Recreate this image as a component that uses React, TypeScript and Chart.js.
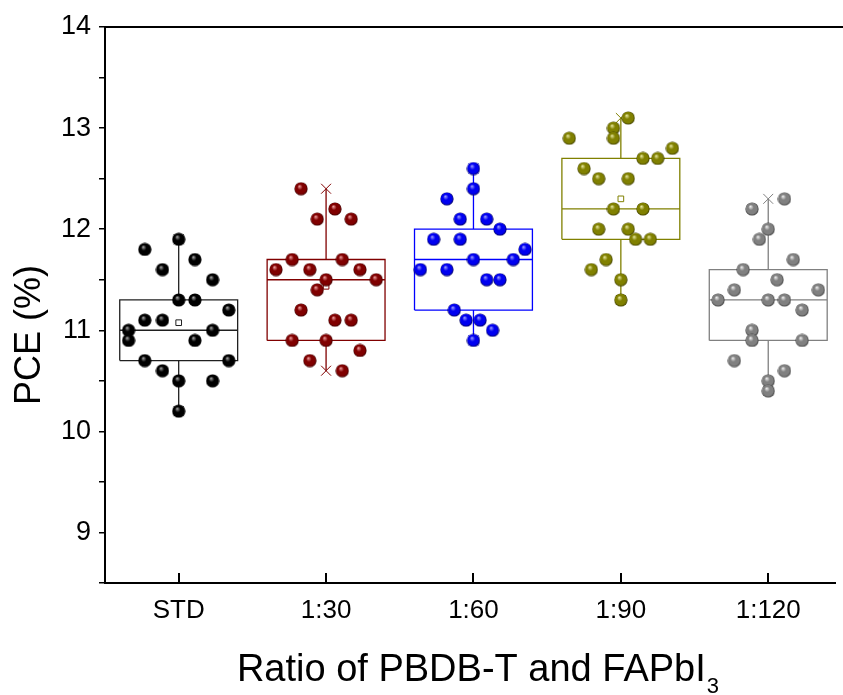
import React, { useEffect, useRef } from 'react';
import { Chart, registerables } from 'chart.js';

Chart.register(...registerables);

const categories = ['STD', '1:30', '1:60', '1:90', '1:120'];
const colors = ['#000000', '#800000', '#0000f0', '#808000', '#808080'];
const lightColors = ['#a8a8a8', '#f0a0a0', '#a0a0ff', '#e8e8a0', '#f0f0f0'];
const darkColors = ['#000000', '#400000', '#000060', '#404000', '#404040'];
const boxColors = ['#202020', '#800000', '#0000ff', '#808000', '#808080'];

const stdValues = [11.9, 11.8, 11.7, 11.6, 11.5, 11.3, 11.3, 11.2, 11.1, 11.1, 11.0, 11.0, 10.9, 10.9, 10.7, 10.7, 10.6, 10.5, 10.5, 10.2];
const stdOffsets = [0, -0.23, 0.11, -0.11, 0.23, 0, 0.11, 0.34, -0.23, -0.11, -0.34, 0.23, -0.34, 0.11, -0.23, 0.34, -0.11, 0, 0.23, 0];

const r30Values = [12.4, 12.2, 12.1, 12.1, 11.7, 11.7, 11.6, 11.6, 11.6, 11.5, 11.5, 11.4, 11.2, 11.1, 11.1, 10.9, 10.9, 10.8, 10.7, 10.6];
const r30Offsets = [-0.17, 0.06, -0.06, 0.17, -0.23, 0.11, -0.34, -0.11, 0.23, 0, 0.34, -0.06, -0.17, 0.06, 0.17, -0.23, 0, 0.23, -0.11, 0.11];

const r60Values = [12.6, 12.4, 12.3, 12.1, 12.1, 12.0, 11.9, 11.9, 11.8, 11.7, 11.7, 11.6, 11.6, 11.5, 11.5, 11.2, 11.1, 11.1, 11.0, 10.9];
const r60Offsets = [0, 0, -0.18, -0.09, 0.09, 0.18, -0.27, -0.09, 0.35, 0, 0.27, -0.36, -0.18, 0.09, 0.18, -0.13, -0.05, 0.045, 0.13, 0];

const r90Values = [13.1, 13.0, 12.9, 12.9, 12.8, 12.7, 12.7, 12.6, 12.5, 12.5, 12.2, 12.2, 12.0, 12.0, 11.9, 11.9, 11.7, 11.6, 11.5, 11.3];
const r90Offsets = [0.05, -0.05, -0.05, -0.35, 0.35, 0.15, 0.25, -0.25, -0.15, 0.05, -0.05, 0.15, -0.15, 0.05, 0.1, 0.2, -0.1, -0.2, 0, 0];

const r120Values = [12.3, 12.2, 12.0, 11.9, 11.7, 11.6, 11.5, 11.4, 11.4, 11.3, 11.3, 11.3, 11.2, 11.0, 10.9, 10.9, 10.7, 10.6, 10.5, 10.4];
const r120Offsets = [0.11, -0.11, 0, -0.06, 0.17, -0.17, 0.06, -0.23, 0.34, -0.34, 0, 0.11, 0.23, -0.11, -0.11, 0.23, -0.23, 0.11, 0, 0];

const groupValues = [stdValues, r30Values, r60Values, r90Values, r120Values];
const groupOffsets = [stdOffsets, r30Offsets, r60Offsets, r90Offsets, r120Offsets];

const q1Values = [10.7, 10.9, 11.2, 11.9, 10.9];
const medianValues = [11.0, 11.5, 11.7, 12.2, 11.3];
const q3Values = [11.3, 11.7, 12.0, 12.7, 11.6];

const yTitle = 'PCE (%)';
const xTitleMain = 'Ratio of PBDB-T and FAPbI';
const xTitleSub = '3';

const FONT = "'Liberation Sans', Arial, Helvetica, sans-serif";
const BOX_HALF = 0.4;

function makeSphere(body: string, light: string, dark: string): HTMLCanvasElement {
  const size = 14;
  const c = document.createElement('canvas');
  c.width = size;
  c.height = size;
  const g = c.getContext('2d')!;
  const cx = size / 2;
  const cy = size / 2;
  const r = 6.6;
  const grad = g.createRadialGradient(cx - 1.7, cy - 2.6, 0.2, cx, cy, r);
  grad.addColorStop(0, light);
  grad.addColorStop(0.4, body);
  grad.addColorStop(0.8, body);
  grad.addColorStop(1, dark);
  g.fillStyle = grad;
  g.beginPath();
  g.arc(cx, cy, r, 0, Math.PI * 2);
  g.fill();
  return c;
}

const decorPlugin = {
  id: 'decor',
  afterDraw(chart: any) {
    const { ctx, chartArea, scales } = chart;
    ctx.save();
    ctx.strokeStyle = '#000';
    ctx.lineWidth = 2;
    ctx.beginPath();
    ctx.moveTo(chartArea.left - 1, chartArea.top);
    ctx.lineTo(chart.width, chartArea.top);
    ctx.stroke();
    ctx.beginPath();
    categories.forEach((_, i) => {
      const px = Math.round(scales.x.getPixelForValue(i));
      ctx.moveTo(px, chartArea.bottom);
      ctx.lineTo(px, chartArea.bottom - 10);
    });
    ctx.stroke();

    // x title
    ctx.fillStyle = '#000';
    ctx.textBaseline = 'alphabetic';
    ctx.font = `38px ${FONT}`;
    const mainW = ctx.measureText(xTitleMain).width;
    ctx.font = `22px ${FONT}`;
    const subW = ctx.measureText(xTitleSub).width;
    const cx = scales.x.getPixelForValue(2) + 4;
    const startX = cx - (mainW + subW) / 2;
    ctx.font = `38px ${FONT}`;
    ctx.textAlign = 'left';
    ctx.fillText(xTitleMain, startX, 681);
    ctx.font = `22px ${FONT}`;
    ctx.fillText(xTitleSub, startX + mainW + 1, 693);

    // y title
    ctx.save();
    ctx.translate(40, 335);
    ctx.rotate(-Math.PI / 2);
    ctx.font = `36px ${FONT}`;
    ctx.textAlign = 'center';
    ctx.fillText(yTitle, 0, 0);
    ctx.restore();
    ctx.restore();
  },
};

export default function App() {
  const ref = useRef<HTMLCanvasElement>(null);

  useEffect(() => {
    if (!ref.current) return;
    const spheres = colors.map((c, i) => makeSphere(c, lightColors[i], darkColors[i]));

    const pointSets = groupValues.map((vals, i) => ({
      type: 'scatter' as const,
      label: categories[i],
      data: vals.map((v, k) => ({ x: i + groupOffsets[i][k], y: v })),
      pointStyle: spheres[i],
      pointRadius: 7,
      showLine: false,
      order: 0,
    }));

    const means = groupValues.map((vals) => vals.reduce((a, b) => a + b, 0) / vals.length);
    const mins = groupValues.map((vals) => Math.min(...vals));
    const maxs = groupValues.map((vals) => Math.max(...vals));

    const meanSet = {
      type: 'scatter' as const,
      label: 'mean',
      data: means.map((m, i) => ({ x: i, y: m })),
      pointStyle: 'rect',
      pointRadius: 4,
      backgroundColor: '#ffffff',
      borderColor: boxColors,
      borderWidth: 1,
      showLine: false,
      order: 1,
    };

    const extremeSet = {
      type: 'scatter' as const,
      label: 'extremes',
      data: [
        ...mins.map((m, i) => ({ x: i, y: m })),
        ...maxs.map((m, i) => ({ x: i, y: m })),
      ],
      pointStyle: 'crossRot',
      pointRadius: 7,
      borderColor: [...boxColors, ...boxColors],
      borderWidth: 1,
      showLine: false,
      order: 1,
    };

    const boxSets = categories.map((_, i) => ({
      type: 'scatter' as const,
      label: 'box ' + categories[i],
      data: [
        { x: i - BOX_HALF, y: q1Values[i] },
        { x: i + BOX_HALF, y: q1Values[i] },
        { x: i + BOX_HALF, y: q3Values[i] },
        { x: i - BOX_HALF, y: q3Values[i] },
        { x: i - BOX_HALF, y: q1Values[i] },
        { x: i, y: null },
        { x: i - BOX_HALF, y: medianValues[i] },
        { x: i + BOX_HALF, y: medianValues[i] },
        { x: i, y: null },
        { x: i, y: q3Values[i] },
        { x: i, y: maxs[i] },
        { x: i, y: null },
        { x: i, y: q1Values[i] },
        { x: i, y: mins[i] },
      ],
      showLine: true,
      spanGaps: false,
      borderColor: boxColors[i],
      borderWidth: 1.3,
      pointRadius: 0,
      tension: 0,
      order: 2,
    }));

    const chart = new Chart(ref.current, {
      type: 'scatter',
      data: { datasets: [...pointSets, meanSet, extremeSet, ...boxSets] as any },
      options: {
        responsive: false,
        animation: false,
        layout: { padding: { top: 27, right: 0, left: 0, bottom: 0 } },
        plugins: { legend: { display: false }, tooltip: { enabled: false } },
        scales: {
          x: {
            type: 'linear',
            min: -0.5,
            max: 4.453,
            afterBuildTicks: (s: any) => {
              s.ticks = categories.map((_, i) => ({ value: i }));
            },
            afterFit: (s: any) => {
              s.height = 112;
            },
            ticks: {
              autoSkip: false,
              maxRotation: 0,
              padding: 12,
              color: '#000',
              font: { family: FONT, size: 26 },
              callback: (v: any) => categories[Math.round(Number(v))] ?? '',
            },
            grid: { display: false, drawTicks: false },
            border: { display: true, color: '#000', width: 2 },
          },
          y: {
            type: 'linear',
            min: 8.5,
            max: 14,
            afterFit: (s: any) => {
              s.width = 105;
            },
            ticks: {
              stepSize: 0.5,
              padding: 8,
              color: '#000',
              font: { family: FONT, size: 27 },
              callback: (v: any) => (Number.isInteger(Number(v)) && Number(v) >= 9 ? String(v) : ''),
            },
            grid: { display: true, drawOnChartArea: false, drawTicks: true, tickLength: 6, color: '#000', lineWidth: 1.5 },
            border: { display: true, color: '#000', width: 2 },
          },
        },
      },
      plugins: [decorPlugin],
    });
    return () => chart.destroy();
  }, []);

  return (
    <div style={{ position: 'absolute', left: 0, top: 0, width: 843, height: 695, background: '#fff' }}>
      <canvas ref={ref} width={843} height={695} style={{ display: 'block' }} />
    </div>
  );
}
